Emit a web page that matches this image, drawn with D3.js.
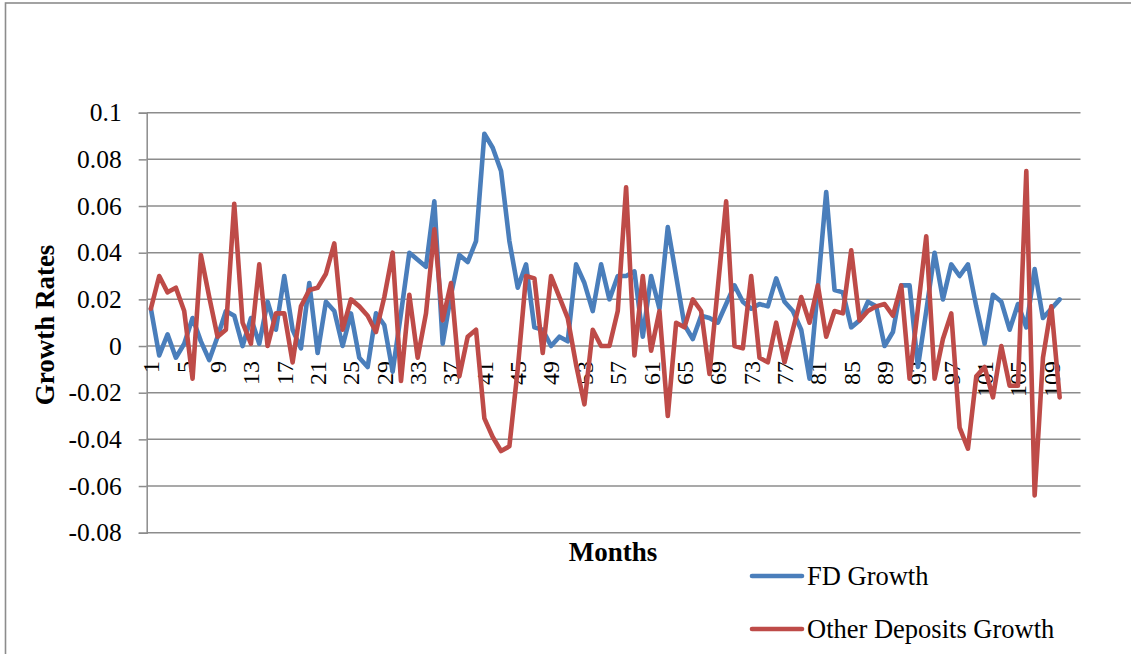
<!DOCTYPE html>
<html>
<head>
<meta charset="utf-8">
<script src="https://cdn.jsdelivr.net/npm/d3@7"></script>
<style>
  html, body { margin: 0; padding: 0; background: #ffffff; }
  svg { display: block; font-family: "Liberation Serif", "Times New Roman", serif; }
</style>
</head>
<body>
<svg id="chart" width="1131" height="654"></svg>
<script>
// Monthly growth rates, months 1..110
const fdGrowth = [
  0.016, -0.004, 0.005, -0.005, 0.001, 0.012, 0.002, -0.006, 0.004, 0.015,
  0.013, 0.000, 0.012, 0.001, 0.019, 0.007, 0.030, 0.007, -0.001, 0.027,
  -0.003, 0.019, 0.015, 0.000, 0.014, -0.005, -0.009, 0.014, 0.009, -0.011,
  0.014, 0.040, 0.037, 0.034, 0.062, 0.001, 0.022, 0.039, 0.036, 0.045,
  0.091, 0.085, 0.075, 0.045, 0.025, 0.035, 0.008, 0.007, 0.000, 0.004,
  0.002, 0.035, 0.027, 0.015, 0.035, 0.020, 0.030, 0.030, 0.032, 0.004,
  0.030, 0.016, 0.051, 0.030, 0.009, 0.003, 0.013, 0.012, 0.010, 0.018,
  0.026, 0.019, 0.016, 0.018, 0.017, 0.029, 0.019, 0.015, 0.007, -0.014,
  0.025, 0.066, 0.024, 0.023, 0.008, 0.011, 0.019, 0.017, 0.000, 0.006,
  0.026, 0.026, -0.009, 0.015, 0.040, 0.020, 0.035, 0.030, 0.035, 0.017,
  0.001, 0.022, 0.019, 0.007, 0.018, 0.008, 0.033, 0.012, 0.016, 0.020
];

const otherDepositsGrowth = [
  0.016, 0.030, 0.023, 0.025, 0.015, -0.014, 0.039, 0.021, 0.004, 0.007,
  0.061, 0.010, 0.001, 0.035, 0.000, 0.014, 0.014, -0.007, 0.017, 0.024,
  0.025, 0.031, 0.044, 0.007, 0.020, 0.017, 0.013, 0.006, 0.021, 0.040,
  -0.015, 0.022, -0.005, 0.014, 0.050, 0.011, 0.027, -0.013, 0.004, 0.007,
  -0.031, -0.039, -0.045, -0.043, -0.010, 0.030, 0.029, -0.003, 0.030, 0.021,
  0.012, -0.008, -0.025, 0.007, 0.000, 0.000, 0.015, 0.068, -0.004, 0.030,
  -0.002, 0.015, -0.030, 0.010, 0.008, 0.020, 0.015, -0.012, 0.025, 0.062,
  0.000, -0.001, 0.030, -0.005, -0.007, 0.010, -0.007, 0.007, 0.021, 0.010,
  0.026, 0.004, 0.015, 0.014, 0.041, 0.011, 0.015, 0.017, 0.018, 0.013,
  0.026, -0.014, 0.016, 0.047, -0.014, 0.003, 0.014, -0.035, -0.044, -0.013,
  -0.009, -0.022, 0.000, -0.017, -0.017, 0.075, -0.064, -0.005, 0.017, -0.022
];

// Category slots on the month axis (two trailing empty slots)
const monthSlots = d3.range(1, 113);
const monthTickLabels = d3.range(1, 110, 4);
const yTickValues = [-0.08, -0.06, -0.04, -0.02, 0, 0.02, 0.04, 0.06, 0.08, 0.1];
const seriesNames = ["FD Growth", "Other Deposits Growth"];
const seriesColors = ["#4a7ebb", "#be4b48"];

const svg = d3.select("#chart");
const gridColor = "#8c8c8c";

// chart frame
svg.append("rect")
  .attr("x", 5.5).attr("y", 3)
  .attr("width", 1200).attr("height", 700)
  .attr("fill", "none").attr("stroke", gridColor).attr("stroke-width", 1.6);

const plot = { left: 146.7, right: 1080.5, top: 112.7, bottom: 532.7 };

const x = d3.scaleBand().domain(monthSlots).range([plot.left, plot.right]);
const y = d3.scaleLinear().domain([-0.08, 0.1]).range([plot.bottom, plot.top]);
const cx = m => x(m) + x.bandwidth() / 2;

// horizontal gridlines
svg.append("g").selectAll("line").data(yTickValues).join("line")
  .attr("x1", plot.left).attr("x2", plot.right)
  .attr("y1", d => y(d)).attr("y2", d => y(d))
  .attr("stroke", gridColor).attr("stroke-width", 1.5);

// value axis (plain hyphen for negatives)
const yAxis = d3.axisLeft(y).tickValues(yTickValues).tickSize(8).tickPadding(17)
  .tickFormat(d => String(+d.toFixed(2)));
const yg = svg.append("g").attr("transform", `translate(${plot.left},0)`).call(yAxis);
yg.select(".domain").attr("stroke", gridColor).attr("stroke-width", 1.5);
yg.selectAll(".tick line").attr("stroke", gridColor).attr("stroke-width", 1.5);
yg.selectAll(".tick text")
  .attr("font-family", "Liberation Serif").attr("font-size", 25.5).attr("fill", "#000");

// month labels, rotated, hanging below the zero line
svg.append("g").selectAll("text").data(monthTickLabels).join("text")
  .attr("transform", d => `translate(${cx(d)},${y(0) + 15}) rotate(-90)`)
  .attr("text-anchor", "end").attr("dy", "0.35em")
  .attr("font-size", 24).attr("fill", "#000")
  .text(d => d);

// series lines
const line = d3.line().x((d, i) => cx(i + 1)).y(d => y(d));
[fdGrowth, otherDepositsGrowth].forEach((vals, k) => {
  svg.append("path").datum(vals)
    .attr("d", line)
    .attr("fill", "none")
    .attr("stroke", seriesColors[k])
    .attr("stroke-width", 4.6)
    .attr("stroke-linejoin", "round")
    .attr("stroke-linecap", "round");
});

// axis titles
svg.append("text")
  .attr("transform", "translate(45,325) rotate(-90)")
  .attr("text-anchor", "middle").attr("dy", "0.35em")
  .attr("font-size", 27).attr("font-weight", "bold").attr("fill", "#000")
  .text("Growth Rates");

svg.append("text")
  .attr("x", 613).attr("y", 561)
  .attr("text-anchor", "middle")
  .attr("font-size", 27).attr("font-weight", "bold").attr("fill", "#000")
  .text("Months");

// legend
const legendRows = [576, 629];
seriesNames.forEach((name, k) => {
  const ly = legendRows[k];
  svg.append("line")
    .attr("x1", 752).attr("x2", 802).attr("y1", ly).attr("y2", ly)
    .attr("stroke", seriesColors[k]).attr("stroke-width", 4.6)
    .attr("stroke-linecap", "round");
  svg.append("text")
    .attr("x", 807).attr("y", ly).attr("dy", "0.33em")
    .attr("font-size", 26.5).attr("fill", "#000")
    .text(name);
});
</script>
</body>
</html>
